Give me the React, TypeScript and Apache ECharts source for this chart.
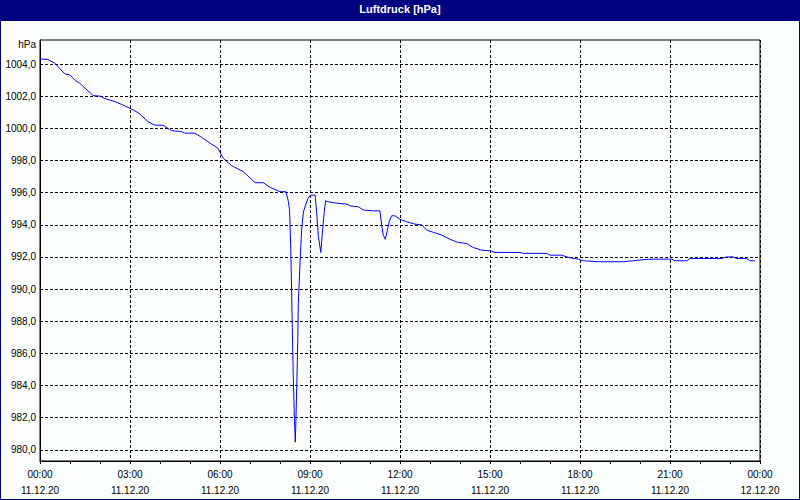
import React, { useEffect, useRef } from "react";
import * as echarts from "echarts";

// time of day in hours (11.12.20 00:00 = 0)
const hours: number[] = [
  0, 0.24, 0.49, 0.82, 0.99, 1.18, 1.32, 1.77, 2.02, 2.16, 2.49, 2.71, 2.99, 3.27, 3.6, 3.82, 4.1, 4.38,
  4.71, 4.82, 5.16, 5.38, 5.6, 5.93, 6.11, 6.39, 6.78, 7.17, 7.44, 7.67, 8.0, 8.2, 8.28, 8.32, 8.36, 8.38,
  8.41, 8.44, 8.48, 8.51, 8.53, 8.56, 8.59, 8.61, 8.67, 8.72, 8.78, 8.87, 8.94, 9.02, 9.17, 9.22, 9.28,
  9.36, 9.42, 9.47, 9.52, 9.61, 9.94, 10.22, 10.33, 10.61, 10.78, 11.06, 11.33, 11.39, 11.44, 11.51,
  11.58, 11.64, 11.72, 11.83, 12.0, 12.22, 12.5, 12.72, 12.89, 13.11, 13.39, 13.67, 13.94, 14.22, 14.44,
  14.72, 15.0, 15.17, 16.0, 16.11, 16.89, 17.0, 17.39, 17.61, 17.94, 18.11, 18.61, 19.44, 20.28, 21.06,
  21.17, 21.56, 21.67, 22.72, 22.89, 23.11, 23.22, 23.56, 23.67, 23.83,
];

// air pressure in hPa
const pressure: number[] = [
  1004.31, 1004.3, 1004.06, 1003.4, 1003.33, 1002.98, 1002.82, 1002.04, 1002.0, 1001.86, 1001.67, 1001.5,
  1001.26, 1000.98, 1000.42, 1000.2, 1000.2, 999.86, 999.8, 999.7, 999.7, 999.45, 999.17, 998.76, 998.14,
  997.68, 997.3, 996.62, 996.62, 996.33, 996.06, 996.06, 995.44, 994.9, 992.4, 990.5, 987.6, 984.75,
  981.95, 980.47, 981.8, 984.1, 986.6, 989.1, 991.7, 993.67, 994.8, 995.33, 995.65, 995.85, 995.85,
  994.8, 993.25, 992.28, 993.67, 994.7, 995.5, 995.43, 995.33, 995.29, 995.18, 995.12, 994.92, 994.87,
  994.87, 993.98, 993.36, 993.1, 993.67, 994.19, 994.56, 994.56, 994.34, 994.19, 994.04, 994.0, 993.67,
  993.53, 993.36, 993.09, 992.9, 992.84, 992.59, 992.42, 992.38, 992.28, 992.28, 992.22, 992.22, 992.11,
  992.11, 991.97, 991.86, 991.76, 991.7, 991.7, 991.86, 991.86, 991.76, 991.76, 991.9, 991.9, 992.0,
  992.0, 991.9, 991.9, 991.76, 991.76,
];

const xTimeLabels: string[] = [
  "00:00", "03:00", "06:00", "09:00", "12:00", "15:00", "18:00", "21:00", "00:00",
];
const xDateLabels: string[] = [
  "11.12.20", "11.12.20", "11.12.20", "11.12.20", "11.12.20", "11.12.20", "11.12.20", "11.12.20", "12.12.20",
];

const titleText = "Luftdruck [hPa]";
const unitText = "hPa";

const FONT = '"Liberation Sans", Arial, sans-serif';

export default function App() {
  const ref = useRef<HTMLDivElement>(null);

  useEffect(() => {
    if (!ref.current) return;
    const chart = echarts.init(ref.current, undefined, { renderer: "svg" });
    const data = hours.map((h, i) => [h, pressure[i]]);
    chart.setOption({
      animation: false,
      backgroundColor: "#fbfffb",
      title: {
        text: titleText,
        left: "center",
        top: 3,
        padding: 0,
        textStyle: { color: "#ffffff", fontSize: 11, fontWeight: "bold", fontFamily: FONT },
      },
      graphic: [
        {
          type: "rect",
          silent: true,
          z: 0,
          shape: { x: 0, y: 0, width: 800, height: 21 },
          style: { fill: "#000080" },
        },
        {
          type: "rect",
          silent: true,
          z: 0,
          shape: { x: 0.5, y: 0.5, width: 799, height: 499 },
          style: { fill: "none", stroke: "#000080", lineWidth: 1 },
        },
        {
          type: "text",
          silent: true,
          x: 36,
          y: 39,
          style: {
            text: unitText,
            align: "right",
            verticalAlign: "top",
            fill: "#000000",
            font: `10px ${FONT}`,
          },
        },
      ],
      grid: {
        left: 40,
        right: 40,
        top: 40,
        bottom: 39,
        show: true,
        borderColor: "#000000",
        borderWidth: 1,
        backgroundColor: "transparent",
      },
      xAxis: {
        type: "value",
        min: 0,
        max: 24,
        interval: 3,
        axisLine: { show: true, lineStyle: { color: "#000000", width: 1 } },
        axisTick: { show: true, length: 3, lineStyle: { color: "#000000" } },
        minorTick: { show: true, splitNumber: 3, length: 3, lineStyle: { color: "#000000" } },
        splitLine: { show: true, lineStyle: { color: "#000000", type: [3, 2], width: 1 } },
        axisLabel: {
          color: "#000000",
          fontSize: 10,
          fontFamily: FONT,
          lineHeight: 16,
          margin: 5,
          formatter: (v: number) => {
            const i = Math.round(v / 3);
            return `${xTimeLabels[i]}\n${xDateLabels[i]}`;
          },
        },
      },
      yAxis: {
        type: "value",
        min: 979.3,
        max: 1005.5,
        splitNumber: 13,
        minInterval: 2,
        maxInterval: 2,
        axisLine: { show: true, lineStyle: { color: "#000000", width: 1 } },
        axisTick: { show: false },
        splitLine: {
          show: true,
          showMinLine: false,
          showMaxLine: false,
          lineStyle: { color: "#000000", type: [3, 2], width: 1 },
        },
        axisLabel: {
          color: "#000000",
          fontSize: 10,
          fontFamily: FONT,
          margin: 4,
          showMinLabel: false,
          showMaxLabel: false,
          formatter: (v: number) => {
            if (Math.abs(v / 2 - Math.round(v / 2)) > 0.001) return "";
            return v.toFixed(1).replace(".", ",");
          },
        },
      },
      series: [
        {
          type: "line",
          data,
          showSymbol: false,
          symbol: "none",
          lineStyle: { color: "#0000ff", width: 1 },
          itemStyle: { color: "#0000ff" },
          z: 5,
        },
      ],
    });
    return () => chart.dispose();
  }, []);

  return (
    <div
      ref={ref}
      style={{ position: "absolute", left: 0, top: 0, width: 800, height: 500 }}
    />
  );
}
